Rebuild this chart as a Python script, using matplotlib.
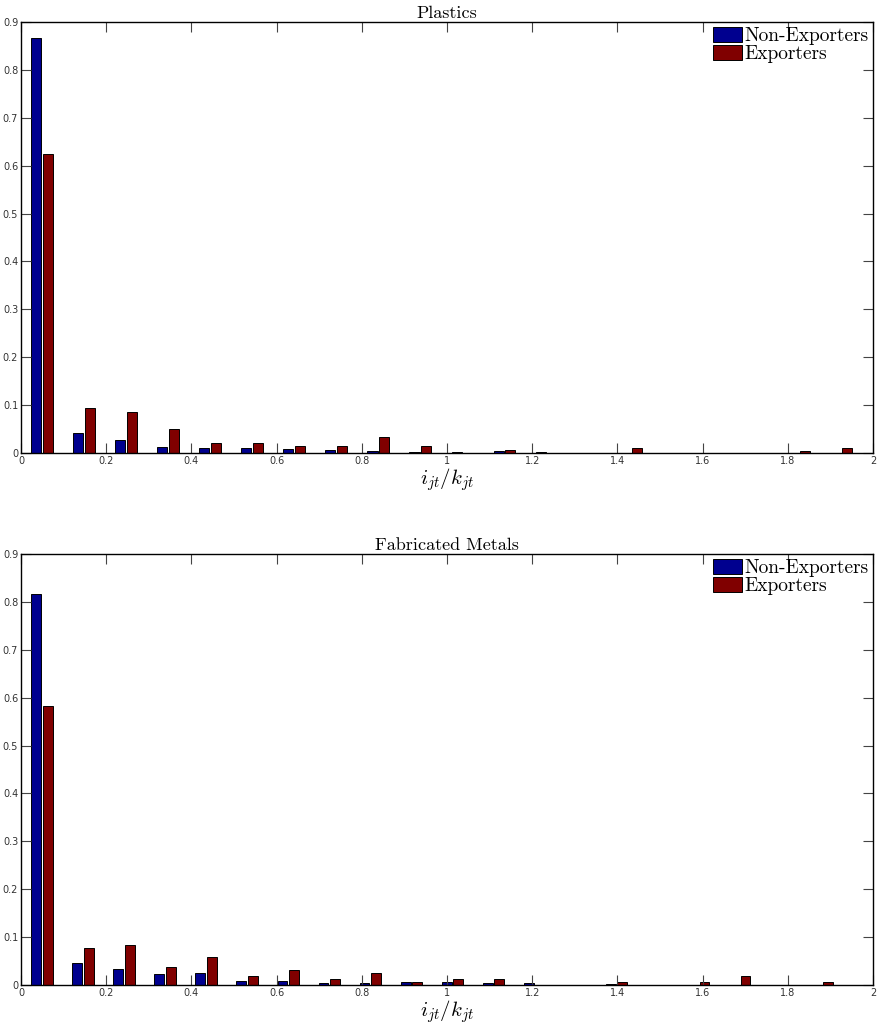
import numpy as np
import matplotlib
matplotlib.use('Agg')
import matplotlib.pyplot as plt

plt.rcParams['mathtext.fontset'] = 'cm'

# histogram bin centres (i/k ratio) for each industry
plastics_bins = np.linspace(0.049, 1.925, 20)
metals_bins = np.linspace(0.049, 1.880, 20)

plastics_non = [0.866, 0.042, 0.028, 0.0126, 0.0098, 0.0098, 0.0084, 0.0056, 0.005, 0.0028,
                0.002, 0.004, 0.003, 0.001, 0.001, 0.0005, 0.0005, 0.001, 0.0, 0.001]
plastics_exp = [0.624, 0.094, 0.085, 0.050, 0.020, 0.020, 0.0147, 0.0147, 0.034, 0.0147,
                0.0, 0.0056, 0.0, 0.0, 0.0105, 0.0, 0.0, 0.0, 0.005, 0.010]

metals_non = [0.817, 0.045, 0.034, 0.023, 0.0245, 0.009, 0.0084, 0.004, 0.005, 0.0063,
              0.0056, 0.005, 0.0035, 0.001, 0.003, 0.001, 0.001, 0.0007, 0.0005, 0.001]
metals_exp = [0.583, 0.077, 0.083, 0.038, 0.058, 0.019, 0.0315, 0.0126, 0.026, 0.0063,
              0.0126, 0.0126, 0.0005, 0.0005, 0.0063, 0.0005, 0.0063, 0.019, 0.0, 0.0063]

titles = ['Plastics', 'Fabricated Metals']
labels = ['Non-Exporters', 'Exporters']
blue = '#00008f'
red = '#800000'

fig = plt.figure(figsize=(8.78, 10.24), dpi=100)

panels = [(plastics_bins, plastics_non, plastics_exp, 0.5576),
          (metals_bins, metals_non, metals_exp, 0.0381)]

for (bins, non, exp, bottom), title in zip(panels, titles):
    ax = fig.add_axes([0.0239, bottom, 0.9704, 0.4209])
    step = bins[1] - bins[0]
    w = 0.24 * step
    off = 0.14 * step
    ax.bar(bins - off, non, width=w, color=blue, edgecolor='black', linewidth=0.7, label=labels[0])
    ax.bar(bins + off, exp, width=w, color=red, edgecolor='black', linewidth=0.7, label=labels[1])
    ax.set_xlim(0, 2)
    ax.set_ylim(0, 0.9)
    ax.set_xticks(np.arange(0, 2.01, 0.2))
    ax.set_xticklabels(['0', '0.2', '0.4', '0.6', '0.8', '1', '1.2', '1.4', '1.6', '1.8', '2'])
    ax.set_yticks(np.arange(0, 0.91, 0.1))
    ax.set_yticklabels(['0', '0.1', '0.2', '0.3', '0.4', '0.5', '0.6', '0.7', '0.8', '0.9'])
    ax.tick_params(direction='in', length=7, width=0.8, top=True, right=True,
                   labelsize=7, labelcolor='#333333', color='#444444', pad=2)
    for s in ax.spines.values():
        s.set_linewidth(1.0)
    ax.set_title(title, family='cmr10', fontsize=13, pad=3)
    ax.set_xlabel(r'$i_{jt}/k_{jt}$', fontsize=15, labelpad=0)
    ax.legend(loc='upper right', frameon=False, prop={'family': 'cmr10', 'size': 14},
              handlelength=1.5, handleheight=0.8, handletextpad=0.1, labelspacing=0.0,
              borderaxespad=0.15, borderpad=0.1)

fig.savefig('out.png', dpi=100)
